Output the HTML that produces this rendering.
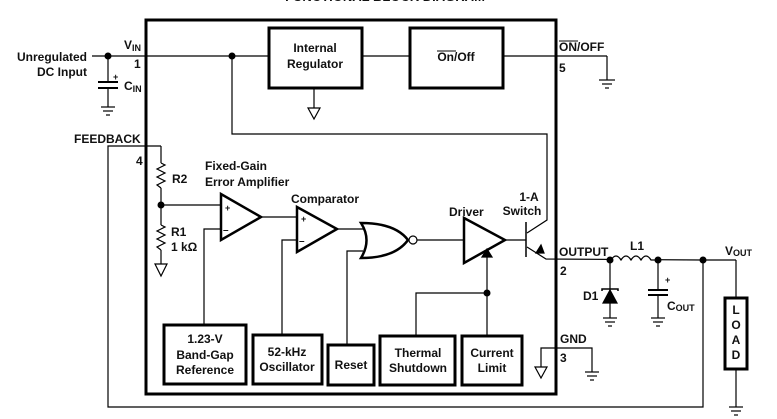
<!DOCTYPE html>
<html><head><meta charset="utf-8"><style>
html,body{margin:0;padding:0;background:#fff;}
svg{display:block;}
text{font-family:"Liberation Sans",sans-serif;font-weight:bold;fill:#111;font-size:12px;}
</style></head><body>
<svg width="777" height="419" viewBox="0 0 777 419" xmlns="http://www.w3.org/2000/svg">
<g fill="none" stroke="#000" stroke-width="1.2">
<text x="385" y="1" text-anchor="middle" style="font-size:13px" stroke="none">FUNCTIONAL BLOCK DIAGRAM</text>
<!-- main box -->
<rect x="146" y="20" width="410" height="374" stroke-width="3"/>
<!-- Vin line -->
<line x1="92" y1="56" x2="269" y2="56"/>
<line x1="362" y1="56" x2="410" y2="56"/>
<line x1="503" y1="56" x2="607" y2="56"/>
<line x1="607" y1="56" x2="607" y2="80"/>
<line x1="599" y1="80" x2="615" y2="80"/><line x1="602" y1="84" x2="612" y2="84"/><line x1="605" y1="88" x2="609" y2="88"/>
<rect x="269" y="28" width="93" height="60" stroke-width="3"/>
<rect x="410" y="28" width="93" height="60" stroke-width="3"/>
<line x1="314" y1="88" x2="314" y2="108"/>
<polygon points="308,108 320,108 314,119"/>
<!-- Cin -->
<line x1="108" y1="56" x2="108" y2="82"/>
<line x1="98" y1="82" x2="118" y2="82" stroke-width="2"/>
<line x1="98" y1="88" x2="118" y2="88" stroke-width="2"/>
<line x1="108" y1="88" x2="108" y2="107"/>
<line x1="101" y1="107" x2="115" y2="107"/><line x1="103" y1="111" x2="113" y2="111"/><line x1="106" y1="115" x2="110" y2="115"/>
<!-- vin loop to collector -->
<polyline points="232,56 232,134 547,134 547,220 527,233"/>
<!-- transistor -->
<line x1="526" y1="222" x2="526" y2="257" stroke-width="1.5"/>
<polyline points="527,247 546,259 702,260"/>
<polygon points="536,253 544,253 541,245" fill="#000"/>
<!-- output side -->
<line x1="703" y1="260" x2="736" y2="260"/>
<line x1="736" y1="260" x2="736" y2="298"/>
<rect x="725" y="298" width="22" height="71" stroke-width="3"/>
<line x1="736" y1="369" x2="736" y2="407"/>
<line x1="729" y1="407" x2="743" y2="407"/><line x1="731" y1="411" x2="741" y2="411"/><line x1="734" y1="415" x2="738" y2="415"/>
<rect x="612" y="255" width="44" height="10" fill="#fff" stroke="none"/>
<path d="M611,260 q5,-8 10,0 q5,-8 10,0 q5,-8 10,0 q5,-8 10,0 l6,0"/>
<!-- diode -->
<line x1="610" y1="260" x2="610" y2="318"/>
<polygon points="603,303 617,303 610,290" fill="#000"/>
<polyline points="602,291 602,289 618,289 618,291" stroke-width="1.5"/>
<line x1="603" y1="318" x2="617" y2="318"/><line x1="605" y1="322" x2="615" y2="322"/><line x1="608" y1="326" x2="612" y2="326"/>
<!-- cout -->
<line x1="658" y1="260" x2="658" y2="290"/>
<line x1="648" y1="290" x2="668" y2="290" stroke-width="2"/>
<line x1="648" y1="295" x2="668" y2="295" stroke-width="2"/>
<line x1="658" y1="295" x2="658" y2="318"/>
<line x1="651" y1="318" x2="665" y2="318"/><line x1="653" y1="322" x2="663" y2="322"/><line x1="656" y1="326" x2="660" y2="326"/>
<!-- feedback -->
<polyline points="161,146 108,146 108,407 703,407 703,260"/>
<line x1="161" y1="146" x2="161" y2="163"/>
<polyline points="161,163 165,165 157,169 165,173 157,177 165,181 157,185 161,188"/>
<line x1="161" y1="188" x2="161" y2="225"/>
<polyline points="161,225 165,227 157,231 165,235 157,239 165,243 157,247 161,250"/>
<line x1="161" y1="250" x2="161" y2="264"/>
<polygon points="155,264 167,264 161,276"/>
<line x1="161" y1="205" x2="221" y2="205"/>
<!-- error amp -->
<polygon points="221,194 221,240 261,217" stroke-width="2.5"/>
<polyline points="221,229 204,229 204,325"/>
<line x1="261" y1="217" x2="297" y2="217"/>
<!-- comparator -->
<polygon points="297,207 297,252 337,229" stroke-width="2.5"/>
<polyline points="297,240 282,240 282,335"/>
<line x1="337" y1="229" x2="364" y2="229"/>
<!-- NOR -->
<path d="M361,223 Q372,240 361,258 Q395,258 408,240 Q395,223 361,223 Z" stroke-width="2.5"/>
<circle cx="413" cy="240" r="4"/>
<polyline points="363,251 347,251 347,345"/>
<line x1="417" y1="240" x2="464" y2="240"/>
<!-- driver -->
<polygon points="464,218 464,263 505,240" stroke-width="2.5"/>
<line x1="505" y1="240" x2="526" y2="240"/>
<line x1="487" y1="256" x2="487" y2="336"/>
<polygon points="482,257 492,257 487,249" fill="#000"/>
<polyline points="487,293 416,293 416,336"/>
<!-- bottom boxes -->
<rect x="164" y="325" width="82" height="59" stroke-width="3"/>
<rect x="253" y="335" width="69" height="49" stroke-width="3"/>
<rect x="328" y="345" width="46" height="40" stroke-width="3"/>
<rect x="380" y="336" width="75" height="49" stroke-width="3"/>
<rect x="462" y="336" width="60" height="49" stroke-width="3"/>
<!-- GND -->
<polyline points="541,367 541,348 592,348 592,372"/>
<polygon points="535,367 547,367 541,378"/>
<line x1="585" y1="372" x2="599" y2="372"/><line x1="587" y1="376" x2="597" y2="376"/><line x1="590" y1="380" x2="594" y2="380"/>
</g>
<g fill="#000" stroke="none">
<circle cx="108" cy="56" r="3.5"/><circle cx="232" cy="56" r="3.5"/>
<circle cx="161" cy="205" r="3.5"/><circle cx="487" cy="293" r="3.5"/>
<circle cx="610" cy="260" r="3.5"/><circle cx="658" cy="260" r="3.5"/><circle cx="703" cy="260" r="3.5"/>
</g>
<text x="87" y="61" text-anchor="end">Unregulated</text>
<text x="87" y="76" text-anchor="end">DC Input</text>
<text x="124" y="49">V<tspan style="font-size:9px" dy="2">IN</tspan></text>
<text x="134" y="68">1</text>
<text x="113" y="80" style="font-size:9px">+</text>
<text x="124" y="90">C<tspan style="font-size:9px" dy="2">IN</tspan></text>
<text x="315" y="52" text-anchor="middle">Internal</text>
<text x="315" y="68" text-anchor="middle">Regulator</text>
<text x="456" y="61" text-anchor="middle">On/Off</text>
<line x1="437" y1="51" x2="456" y2="51" stroke="#000" stroke-width="1"/>
<text x="559" y="51">ON/OFF</text>
<line x1="559" y1="41" x2="578" y2="41" stroke="#000" stroke-width="1"/>
<text x="559" y="72">5</text>
<text x="74" y="143">FEEDBACK</text>
<text x="136" y="165">4</text>
<text x="172" y="183">R2</text>
<text x="171" y="236">R1</text>
<text x="171" y="251">1 kΩ</text>
<text x="205" y="170">Fixed-Gain</text>
<text x="205" y="186">Error Amplifier</text>
<text x="291" y="203">Comparator</text>
<text x="225" y="211" style="font-size:9px">+</text>
<text x="223" y="233" style="font-size:10px">–</text>
<text x="301" y="222" style="font-size:9px">+</text>
<text x="299" y="244" style="font-size:10px">–</text>
<text x="449" y="216">Driver</text>
<text x="529" y="201" text-anchor="middle">1-A</text>
<text x="522" y="215" text-anchor="middle">Switch</text>
<text x="559" y="256">OUTPUT</text>
<text x="560" y="275">2</text>
<text x="630" y="250">L1</text>
<text x="725" y="255">V<tspan style="font-size:9px" dy="1">OUT</tspan></text>
<text x="583" y="300">D1</text>
<text x="665" y="283" style="font-size:9px">+</text>
<text x="667" y="310">C<tspan style="font-size:9px" dy="1">OUT</tspan></text>
<text x="736" y="314" text-anchor="middle">L</text>
<text x="736" y="329" text-anchor="middle">O</text>
<text x="736" y="344" text-anchor="middle">A</text>
<text x="736" y="359" text-anchor="middle">D</text>
<text x="560" y="343">GND</text>
<text x="560" y="362">3</text>
<text x="205" y="343" text-anchor="middle">1.23-V</text>
<text x="205" y="359" text-anchor="middle">Band-Gap</text>
<text x="205" y="374" text-anchor="middle">Reference</text>
<text x="287" y="356" text-anchor="middle">52-kHz</text>
<text x="287" y="371" text-anchor="middle">Oscillator</text>
<text x="351" y="369" text-anchor="middle">Reset</text>
<text x="418" y="357" text-anchor="middle">Thermal</text>
<text x="418" y="372" text-anchor="middle">Shutdown</text>
<text x="492" y="357" text-anchor="middle">Current</text>
<text x="492" y="372" text-anchor="middle">Limit</text>
</svg>
</body></html>
